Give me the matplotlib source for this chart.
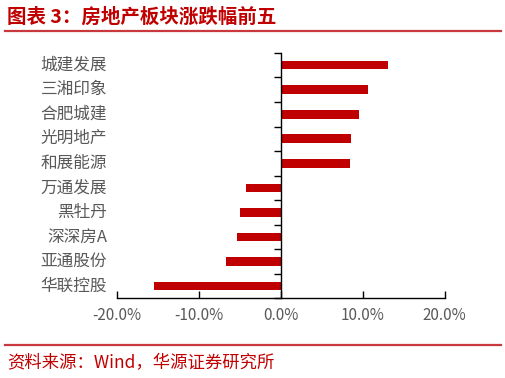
import matplotlib
matplotlib.use("Agg")
import matplotlib.pyplot as plt
import matplotlib.transforms as mtransforms
import numpy as np
from matplotlib.lines import Line2D
from matplotlib.ticker import FuncFormatter

plt.rcParams["font.family"] = ["Noto Sans CJK SC", "DejaVu Sans"]

title = "图表 3：房地产板块涨跌幅前五"
source = "资料来源：Wind，华源证券研究所"

stocks = ["城建发展", "三湘印象", "合肥城建", "光明地产", "和展能源",
          "万通发展", "黑牡丹", "深深房A", "亚通股份", "华联控股"]
changes = [13.1, 10.6, 9.5, 8.6, 8.4, -4.3, -5.0, -5.3, -6.7, -15.5]  # %
x_ticks = [-20, -10, 0, 10, 20]

RED = "#C00000"
LINE_RED = "#C8383C"
GREY = "#595959"

fig = plt.figure(figsize=(5.06, 3.78), dpi=100)
ax = fig.add_axes([0.231, 0.211, 0.648, 0.649])

n = len(stocks)
ypos = np.arange(n)[::-1]
ax.barh(ypos, changes, height=0.35, color=RED, zorder=2)

ax.set_xlim(-20, 20)
ax.set_ylim(-0.5, n - 0.5)
ax.set_xticks(x_ticks)
ax.xaxis.set_major_formatter(FuncFormatter(lambda v, _: f"{v:.1f}%"))
ax.tick_params(axis="x", direction="in", length=5, width=1, colors="black",
               labelcolor=GREY, labelsize=11, pad=6)

# y axis sits at zero, ticks between categories, names at the axes' left edge
ax.spines["left"].set_position(("data", 0))
ax.set_yticks(np.arange(n + 1) - 0.5)
ax.set_yticklabels([])
ax.tick_params(axis="y", direction="out", length=5, width=1, colors="black")
trans = mtransforms.blended_transform_factory(ax.transAxes, ax.transData)
for y, name in zip(ypos, stocks):
    ax.text(-0.03, y, name, transform=trans, ha="right", va="center",
            fontsize=12, color=GREY)

ax.spines["top"].set_visible(False)
ax.spines["right"].set_visible(False)
for side in ("left", "bottom"):
    ax.spines[side].set_linewidth(1)

fig.text(0.014, 0.955, title, fontsize=14, fontweight="bold", color=RED,
         ha="left", va="center")
fig.text(0.014, 0.04, source, fontsize=12.5, color=RED, ha="left", va="center")
for yy in (0.918, 0.088):
    fig.add_artist(Line2D([0.01, 0.99], [yy, yy], color=LINE_RED, lw=1.6,
                          transform=fig.transFigure))

fig.savefig("out.png", dpi=100)
